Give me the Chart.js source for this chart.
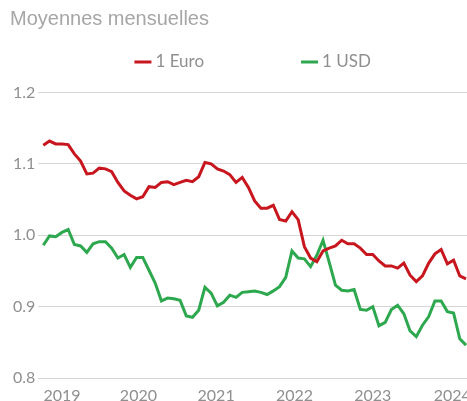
<!DOCTYPE html>
<html lang="fr">
<head>
<meta charset="utf-8">
<title>Moyennes mensuelles</title>
<script src="https://cdn.jsdelivr.net/npm/chart.js@4.4.1/dist/chart.umd.min.js"></script>
<style>
  html, body { margin: 0; padding: 0; background: #fff; overflow: hidden; }
  .chart { position: relative; width: 467px; height: 414px; }
</style>
</head>
<body>
<div class="chart"><canvas id="chart"></canvas></div>
<script>
// monthly averages, one value per month from 01.2019 to 09.2024
const months = [
  '01.2019', '02.2019', '03.2019', '04.2019', '05.2019', '06.2019', '07.2019', '08.2019', '09.2019', '10.2019', '11.2019', '12.2019',
  '01.2020', '02.2020', '03.2020', '04.2020', '05.2020', '06.2020', '07.2020', '08.2020', '09.2020', '10.2020', '11.2020', '12.2020',
  '01.2021', '02.2021', '03.2021', '04.2021', '05.2021', '06.2021', '07.2021', '08.2021', '09.2021', '10.2021', '11.2021', '12.2021',
  '01.2022', '02.2022', '03.2022', '04.2022', '05.2022', '06.2022', '07.2022', '08.2022', '09.2022', '10.2022', '11.2022', '12.2022',
  '01.2023', '02.2023', '03.2023', '04.2023', '05.2023', '06.2023', '07.2023', '08.2023', '09.2023', '10.2023', '11.2023', '12.2023',
  '01.2024', '02.2024', '03.2024', '04.2024', '05.2024', '06.2024', '07.2024', '08.2024', '09.2024'
];

const euro = [
  1.126, 1.132, 1.128, 1.128, 1.127, 1.114, 1.104, 1.086, 1.087, 1.094, 1.093, 1.089,
  1.074, 1.062, 1.056, 1.051, 1.054, 1.068, 1.067, 1.074, 1.075, 1.071, 1.074, 1.077,
  1.075, 1.082, 1.102, 1.100, 1.093, 1.090, 1.085, 1.074, 1.081, 1.067, 1.048, 1.038,
  1.038, 1.042, 1.022, 1.020, 1.033, 1.022, 0.984, 0.968, 0.963, 0.978, 0.982, 0.985,
  0.993, 0.988, 0.988, 0.982, 0.973, 0.973, 0.964, 0.957, 0.957, 0.954, 0.961, 0.944,
  0.935, 0.943, 0.961, 0.974, 0.980, 0.960, 0.965, 0.943, 0.939
];

const usd = [
  0.986, 0.999, 0.998, 1.004, 1.008, 0.987, 0.985, 0.976, 0.988, 0.991, 0.991, 0.982,
  0.968, 0.973, 0.955, 0.969, 0.969, 0.951, 0.933, 0.908, 0.912, 0.911, 0.909, 0.887,
  0.885, 0.895, 0.927, 0.919, 0.901, 0.906, 0.916, 0.913, 0.920, 0.921, 0.922, 0.920,
  0.917, 0.922, 0.928, 0.941, 0.978, 0.968, 0.967, 0.956, 0.972, 0.993, 0.962, 0.930,
  0.923, 0.922, 0.924, 0.896, 0.895, 0.900, 0.873, 0.878, 0.896, 0.902, 0.890, 0.866,
  0.858, 0.874, 0.886, 0.908, 0.908, 0.893, 0.891, 0.855, 0.846
];

// year labels sit at these month positions on the x axis
const yearLabels = ['2019', '2020', '2021', '2022', '2023', '2024'];
const yearTicks = [3, 15.3, 27.8, 40.4, 53, 65.8];

const grey = '#8f8f8f';

// legend: short line + label, drawn in the gap under the title
const lineLegend = {
  id: 'lineLegend',
  afterDraw(chart) {
    const { ctx, chartArea } = chart;
    const sets = chart.data.datasets;
    const gap = 97;
    ctx.save();
    ctx.font = '17px Lato';
    ctx.textBaseline = 'middle';
    const widths = sets.map((ds) => 21 + ctx.measureText(ds.label).width);
    const total = widths.reduce((a, b) => a + b, 0) + gap * (sets.length - 1);
    let x = (chartArea.left + chartArea.right) / 2 - total / 2;
    const y = 62;
    sets.forEach((ds, i) => {
      ctx.fillStyle = ds.borderColor;
      ctx.fillRect(x, y - 1.5, 17, 3);
      ctx.fillStyle = grey;
      ctx.fillText(ds.label, x + 21, y);
      x += widths[i] + gap;
    });
    ctx.restore();
  }
};

const toPoints = (values) => values.map((v, i) => ({ x: i, y: v }));

new Chart(document.getElementById('chart'), {
  type: 'line',
  data: {
    datasets: [
      {
        label: '1 Euro',
        data: toPoints(euro),
        borderColor: '#c8161e',
        backgroundColor: '#c8161e',
        borderWidth: 3,
        pointRadius: 0,
        tension: 0
      },
      {
        label: '1 USD',
        data: toPoints(usd),
        borderColor: '#2ea84f',
        backgroundColor: '#2ea84f',
        borderWidth: 3,
        pointRadius: 0,
        tension: 0
      }
    ]
  },
  options: {
    responsive: true,
    maintainAspectRatio: false,
    animation: false,
    layout: { padding: { left: 10, right: 0, top: 0, bottom: 0 } },
    interaction: { mode: 'index', intersect: false },
    scales: {
      x: {
        type: 'linear',
        bounds: 'data',
        min: -0.8,
        max: 68.16,
        grid: { display: false, drawTicks: false },
        border: { display: false },
        afterBuildTicks: (scale) => {
          scale.ticks = yearTicks.map((value) => ({ value }));
        },
        afterFit: (scale) => {
          scale.paddingLeft = 0;
          scale.paddingRight = 0;
        },
        ticks: {
          autoSkip: false,
          maxRotation: 0,
          padding: 8.4,
          color: grey,
          font: { family: 'Lato', size: 16 },
          callback: (value, index) => yearLabels[index]
        }
      },
      y: {
        min: 0.8,
        max: 1.2,
        border: { display: false },
        grid: { color: '#d6d6d6', drawTicks: false, lineWidth: 1 },
        ticks: {
          stepSize: 0.1,
          padding: 3,
          color: grey,
          font: { family: 'Lato', size: 16 },
          callback: (value) => value.toFixed(1)
        }
      }
    },
    plugins: {
      legend: { display: false },
      title: {
        display: true,
        text: 'Moyennes mensuelles',
        align: 'start',
        color: '#a6a6a6',
        font: { family: 'Liberation Sans', size: 20, weight: 'normal' },
        padding: { top: 7, bottom: 61.5 }
      },
      tooltip: {
        callbacks: {
          title: (items) => months[items[0].parsed.x]
        }
      }
    }
  },
  plugins: [lineLegend]
});
</script>
</body>
</html>
